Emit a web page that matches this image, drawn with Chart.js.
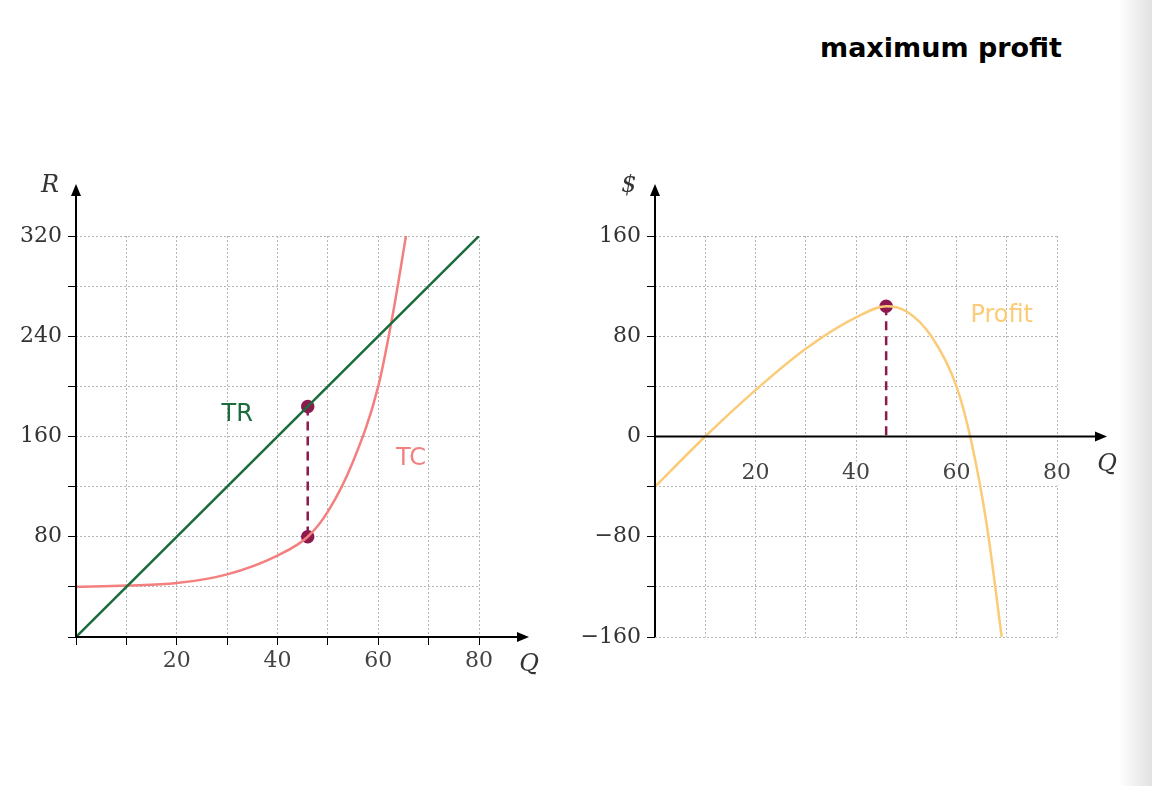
<!DOCTYPE html>
<html><head><meta charset="utf-8">
<script src="https://cdn.jsdelivr.net/npm/chart.js@4"></script>
<style>
body{margin:0;width:1152px;height:786px;background:#fff;position:relative;overflow:hidden}
#title{position:absolute;left:820px;top:32px;font:bold 27px "DejaVu Sans",sans-serif}
#edge{position:absolute;right:0;top:0;width:34px;height:786px;background:linear-gradient(to right,#fff,#e2e2e2)}
canvas{position:absolute}
</style></head><body>
<div id="title">maximum profit</div>
<div id="edge"></div>
<div style="position:absolute;left:0;top:150px;width:560px;height:537px"><canvas id="left"></canvas></div>
<div style="position:absolute;left:560px;top:150px;width:560px;height:537px"><canvas id="right"></canvas></div>
<script>
// values
var trQ = [0, 80];
var trVal = [0, 320];
var tcQ = [0, 10, 20, 30, 40, 46, 50, 55, 60, 63, 65.5];
var tcVal = [40, 41, 43, 50, 65, 80, 100, 140, 200, 260, 320];
var profitQ = [0, 10, 20, 30, 40, 46, 50, 55, 60, 63, 66, 69];
var profitVal = [-40, 0, 37, 70, 95, 104, 100, 80, 40, -5, -70, -160];
var optQ = 46;
var optTR = 184, optTC = 80, optProfit = 104;

var dotColor = '#8c1a4f';
var serif = '"DejaVu Serif", serif';

function pts(xs, ys) {
    return xs.map((x, i) => ({x: x, y: ys[i]}));
}

// axes with arrows, extra labels
function axisPlugin(cfg) {
    return {
        id: 'axes',
        afterDraw(chart) {
            const ctx = chart.ctx, xs = chart.scales.x, ys = chart.scales.y;
            const x0 = xs.getPixelForValue(0), y0 = ys.getPixelForValue(0);
            ctx.save();
            ctx.strokeStyle = '#000'; ctx.fillStyle = '#000'; ctx.lineWidth = 2;
            ctx.beginPath();
            ctx.moveTo(xs.left, y0); ctx.lineTo(xs.right + 42, y0);
            ctx.moveTo(x0, ys.bottom); ctx.lineTo(x0, ys.top - 44);
            ctx.stroke();
            ctx.beginPath();
            ctx.moveTo(xs.right + 50, y0); ctx.lineTo(xs.right + 38, y0 - 5); ctx.lineTo(xs.right + 38, y0 + 5);
            ctx.fill();
            ctx.beginPath();
            ctx.moveTo(x0, ys.top - 52); ctx.lineTo(x0 - 5, ys.top - 40); ctx.lineTo(x0 + 5, ys.top - 40);
            ctx.fill();
            ctx.font = 'italic 24px ' + serif;
            ctx.fillStyle = '#333';
            ctx.textAlign = 'center'; ctx.textBaseline = 'middle';
            ctx.fillText('Q', xs.right + 50, y0 + 28);
            ctx.fillText(cfg.yLabel, x0 - 26, ys.top - 50);
            if (cfg.xTicksAtZero) {
                ctx.font = '22px ' + serif;
                [20, 40, 60, 80].forEach(v => {
                    const px = xs.getPixelForValue(v);
                    ctx.fillStyle = 'rgba(255,255,255,0.8)';
                    ctx.fillRect(px - 17, y0 + 25, 34, 24);
                    ctx.fillStyle = '#444';
                    ctx.fillText(String(v), px, y0 + 37);
                });
            }
            cfg.labels.forEach(l => {
                ctx.font = '24px "DejaVu Sans", sans-serif';
                ctx.fillStyle = l.color;
                ctx.fillText(l.text, xs.getPixelForValue(l.x), ys.getPixelForValue(l.y));
            });
            ctx.restore();
        }
    };
}

function makeOptions(ymin, ymax, ywidth, padRight, showX, yTickFn) {
    return {
        responsive: true, maintainAspectRatio: false, animation: false,
        layout: {padding: {top: 86, right: padRight, bottom: 0, left: 0}},
        plugins: {legend: {display: false}, tooltip: {enabled: false}},
        scales: {
            x: {
                type: 'linear', min: 0, max: 80,
                border: {display: false, dash: [2, 2]},
                grid: {color: '#b5b5b5', lineWidth: 1, drawTicks: showX, tickLength: 8, tickColor: '#000'},
                ticks: {display: showX, stepSize: 10, color: '#444', font: {family: serif, size: 22},
                    callback: v => (v > 0 && v % 20 === 0) ? v : ''},
                afterFit: s => { s.height = 50; }
            },
            y: {
                min: ymin, max: ymax,
                border: {display: false, dash: [2, 2]},
                grid: {color: '#b5b5b5', drawTicks: true, tickLength: 8, tickColor: '#000'},
                ticks: {stepSize: 40, color: '#333', padding: 6, font: {family: serif, size: 22}, callback: yTickFn},
                afterFit: s => { s.width = ywidth; }
            }
        }
    };
}

new Chart(document.getElementById('left'), {
    type: 'scatter',
    data: {datasets: [
        {data: pts(trQ, trVal), showLine: true, borderColor: '#1b6b3c', borderWidth: 2.5, pointRadius: 0},
        {data: pts(tcQ, tcVal), showLine: true, borderColor: '#f47f7f', borderWidth: 2.5, pointRadius: 0, cubicInterpolationMode: 'monotone'},
        {data: [{x: optQ, y: optTR}, {x: optQ, y: optTC}], showLine: true, borderColor: dotColor, borderWidth: 2.5,
         borderDash: [9, 6], pointRadius: 5.5, pointBackgroundColor: dotColor, pointBorderColor: dotColor}
    ]},
    options: makeOptions(0, 320, 76, 81, true, v => (v > 0 && v % 80 === 0) ? v : ''),
    plugins: [axisPlugin({yLabel: 'R', labels: [
        {text: 'TR', x: 32, y: 177, color: '#1b6b3c'},
        {text: 'TC', x: 66.5, y: 142, color: '#f47f7f'}
    ]})]
});

new Chart(document.getElementById('right'), {
    type: 'scatter',
    data: {datasets: [
        {data: pts(profitQ, profitVal), showLine: true, borderColor: '#fbcb78', borderWidth: 2.5, pointRadius: 0, cubicInterpolationMode: 'monotone'},
        {data: [{x: optQ, y: optProfit}, {x: optQ, y: 0}], showLine: true, borderColor: dotColor, borderWidth: 2.5,
         borderDash: [9, 6], pointRadius: [5.5, 0], pointBackgroundColor: dotColor, pointBorderColor: dotColor}
    ]},
    options: makeOptions(-160, 160, 95, 63, false, v => (v % 80 === 0) ? String(v).replace('-', '\u2212') : ''),
    plugins: [axisPlugin({yLabel: '$', xTicksAtZero: true, labels: [
        {text: 'Profit', x: 69, y: 96, color: '#fbcb78'}
    ]})]
});
</script>
</body></html>
